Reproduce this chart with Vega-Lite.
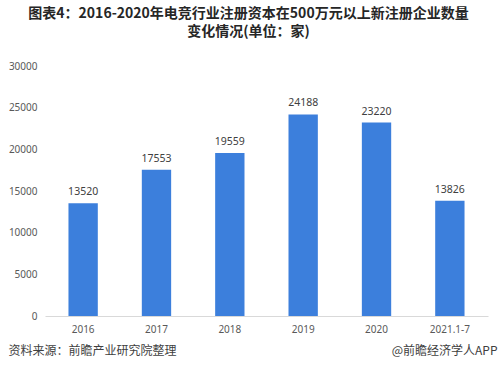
{
  "$schema": "https://vega.github.io/schema/vega-lite/v6.json",
  "autosize": {"type": "none"},
  "width": 443,
  "height": 250,
  "padding": {"left": 45, "top": 66, "right": 11, "bottom": 63},
  "background": "white",
  "title": {
    "text": "图表4：2016-2020年电竞行业注册资本在500万元以上新注册企业数量",
    "subtitle": "变化情况(单位：家)",
    "frame": "group",
    "anchor": "middle",
    "dx": -18,
    "offset": 22,
    "font": "Noto Sans CJK SC",
    "fontSize": 14,
    "fontWeight": "bold",
    "color": "#262626",
    "subtitleFont": "Noto Sans CJK SC",
    "subtitleFontSize": 14,
    "subtitleFontWeight": "bold",
    "subtitleColor": "#262626",
    "subtitlePadding": 4
  },
  "data": {
    "values": [
      {"year": "2016", "count": 13520},
      {"year": "2017", "count": 17553},
      {"year": "2018", "count": 19559},
      {"year": "2019", "count": 24188},
      {"year": "2020", "count": 23220},
      {"year": "2021.1-7", "count": 13826}
    ]
  },
  "encoding": {
    "x": {
      "field": "year",
      "type": "nominal",
      "sort": null,
      "scale": {"paddingInner": 0.6, "paddingOuter": 0.32},
      "axis": {
        "title": "资料来源：前瞻产业研究院整理",
        "titleAnchor": "start",
        "titleAlign": "left",
        "titleX": -37,
        "titleY": 34,
        "titleBaseline": "middle",
        "titleFont": "Noto Sans CJK SC",
        "titleFontSize": 12,
        "titleFontWeight": "normal",
        "titleColor": "#404040",
        "labelAngle": 0,
        "labelFont": "Noto Sans",
        "labelFontSize": 10,
        "labelColor": "#595959",
        "labelPadding": 8,
        "ticks": false,
        "domainColor": "#d9d9d9",
        "grid": false
      }
    },
    "y": {
      "field": "count",
      "type": "quantitative",
      "scale": {"domain": [0, 30000]},
      "axis": {
        "title": "@前瞻经济学人APP",
        "titleAngle": 0,
        "titleX": 452,
        "titleY": 284,
        "titleAlign": "right",
        "titleBaseline": "middle",
        "titleFont": "Noto Sans CJK SC",
        "titleFontSize": 12,
        "titleFontWeight": "normal",
        "titleColor": "#404040",
        "values": [0, 5000, 10000, 15000, 20000, 25000, 30000],
        "format": "d",
        "labelFont": "Noto Sans",
        "labelFontSize": 10,
        "labelColor": "#595959",
        "labelPadding": 8,
        "ticks": false,
        "domain": false,
        "grid": false
      }
    }
  },
  "layer": [
    {"mark": {"type": "bar", "color": "#3C7FDC"}},
    {
      "mark": {"type": "text", "dy": -11, "font": "Noto Sans", "fontSize": 10.5, "color": "#404040"},
      "encoding": {"text": {"field": "count", "type": "quantitative", "format": "d"}}
    }
  ],
  "config": {"view": {"stroke": null}}
}
